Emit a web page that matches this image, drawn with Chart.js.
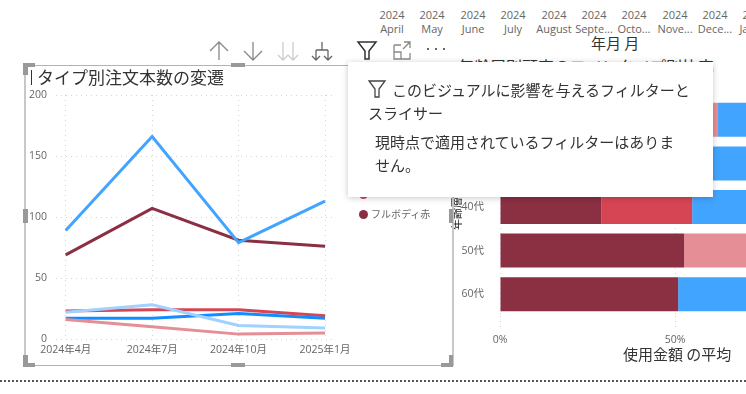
<!DOCTYPE html>
<html>
<head>
<meta charset="utf-8">
<script src="https://cdn.jsdelivr.net/npm/chart.js@4"></script>
<style>
  html, body { margin: 0; padding: 0; width: 746px; height: 394px; overflow: hidden; background: #fff; }
  body { font-family: 'Noto Sans CJK JP', sans-serif; color: #333; position: relative; }
  .abs { position: absolute; white-space: nowrap; }
  canvas { position: absolute; }
  .slicer { position: absolute; top: 8px; width: 58px; text-align: center; font: 11px/14px 'Open Sans', sans-serif; color: #666; }
  .frame { position: absolute; left: 24px; top: 65px; width: 426px; height: 299px; border: 1px solid #b3b3b3; border-left: 2px solid #c8c8c8; border-right: 2px solid #c8c8c8; }
  .hd { position: absolute; background: #999; }
  .dot { position: absolute; width: 9px; height: 9px; border-radius: 50%; }
  .lg { position: absolute; left: 371px; font-size: 10px; line-height: 14px; color: #666; white-space: nowrap; }
  .tip { position: absolute; left: 348px; top: 62px; width: 365px; height: 135px; background: #fff; box-shadow: 0 1px 6px rgba(0,0,0,.22); }
  .bottom-line { position: absolute; left: 0; top: 380px; width: 746px; border-top: 2px dotted #555; }
</style>
</head>
<body>
<div id="slicers"></div>
<div class="abs" style="left:591px;top:32px;font-size:15px;color:#333">年月 月</div>
<div class="abs" style="left:458px;top:56px;font-size:16px;line-height:20px;color:#333">年齢層別顧客のワインタイプ別比率</div>

<canvas id="barChart" width="430" height="300" style="left:440px;top:80px"></canvas>
<div class="abs" style="left:623px;top:343px;font-size:15px;color:#333">使用金額 の平均</div>
<div class="abs" style="left:450px;top:230px;font-size:11px;line-height:12px;color:#222;transform:rotate(-90deg);transform-origin:left top">年齢層</div>

<div class="frame"></div>
<canvas id="lineChart" width="330" height="290" style="left:26px;top:70px"></canvas>
<div class="abs" style="left:31px;top:70px;width:1px;height:15px;background:#333"></div>
<div class="abs" style="left:37px;top:64px;font-size:17px;line-height:25px;color:#333">タイプ別注文本数の変遷</div>
<div class="dot" style="left:359px;top:190px;background:#D64554"></div>
<div class="lg" style="top:185px">ライトボディ赤</div>
<div class="dot" style="left:359px;top:210px;background:#8B2F43"></div>
<div class="lg" style="top:207px">フルボディ赤</div>

<div class="hd" style="left:23px;top:63px;width:12px;height:4px"></div>
<div class="hd" style="left:23px;top:63px;width:5px;height:12px"></div>
<div class="hd" style="left:231px;top:63px;width:14px;height:4px"></div>
<div class="hd" style="left:23px;top:209px;width:5px;height:14px"></div>
<div class="hd" style="left:449px;top:209px;width:4px;height:14px"></div>
<div class="hd" style="left:23px;top:363px;width:12px;height:4px"></div>
<div class="hd" style="left:23px;top:355px;width:5px;height:12px"></div>
<div class="hd" style="left:231px;top:363px;width:14px;height:4px"></div>
<div class="hd" style="left:441px;top:363px;width:12px;height:4px"></div>
<div class="hd" style="left:449px;top:355px;width:4px;height:12px"></div>

<svg class="abs" style="left:204px;top:38px" width="245" height="26" fill="none" stroke-width="1.3">
  <path d="M15 22V4M6 13l9-9 9 9" stroke="#888"/>
  <path d="M49 4v18M40 13l9 9 9-9" stroke="#888"/>
  <path d="M79 4v18M74 17l5 5 5-5M89 4v18M84 17l5 5 5-5" stroke="#ccc"/>
  <path d="M118 4v8M112 12h12M112 12v10M124 12v10M108 18l4 4 4-4M120 18l4 4 4-4" stroke="#666"/>
  <path d="M154 4h18l-7 9v8h-4v-8z" stroke="#333" stroke-width="1.5"/>
  <path d="M190 7h7M190 7v14h16v-6M190 14h7v7M200 4h6v6M206 4l-7 7" stroke="#888"/>
  <path d="M223 11h2M231 11h2M239 11h2" stroke="#666" stroke-width="2"/>
</svg>

<div class="tip"></div>
<svg class="abs" style="left:367px;top:79px" width="20" height="20" fill="none"><path d="M2 2h16l-6 8v8h-4v-8z" stroke="#444" stroke-width="1.3"/></svg>
<div class="abs" style="left:392px;top:78px;font-size:15px;line-height:23px;color:#333">このビジュアルに影響を与えるフィルターと</div>
<div class="abs" style="left:368px;top:101px;font-size:15px;line-height:23px;color:#333">スライサー</div>
<div class="abs" style="left:375px;top:130px;font-size:15px;line-height:23px;color:#333">現時点で適用されているフィルターはありま</div>
<div class="abs" style="left:375px;top:153px;font-size:15px;line-height:23px;color:#333">せん。</div>
<div class="bottom-line"></div>

<script>
// line chart data
const quarters = ['2024年4月', '2024年7月', '2024年10月', '2025年1月'];
const fullRed = [69, 107, 81, 76];
const lightRed = [23, 24, 24, 19];
const paleRed = [16, 10, 4, 5];
const mainBlue = [89, 166, 79, 113];
const brightBlue = [17, 17, 21, 17];
const paleBlue = [22, 28, 11, 9];
const lineTicks = [0, 50, 100, 150, 200];

// stacked bar data
const ages = ['20代', '30代', '40代', '50代', '60代'];
const barDark = [35, 40, 28.9, 52.6, 50.9];
const barRed = [20, 20, 26, 0, 0];
const barPink = [7.3, 0, 0, 47.4, 0];
const barBlue = [37.7, 40, 45.1, 0, 49.1];
const barTicks = [0, 50, 100];

// slicer header
const months = ['April', 'May', 'June', 'July', 'August', 'Septe...', 'Octo...', 'Nove...', 'Dece...', 'Janu...'];
const slicerX = [363, 403, 444, 484, 525, 565, 605, 646, 686, 726];

const slicers = document.getElementById('slicers');
months.forEach((m, i) => {
  const d = document.createElement('div');
  d.className = 'slicer';
  d.style.left = slicerX[i] + 'px';
  d.innerHTML = '2024<br>' + m;
  slicers.appendChild(d);
});

const tickFont = { family: "'Open Sans', 'Noto Sans CJK JP', sans-serif", size: 10.5 };
const gridColor = '#d4d4d4';
const dotted = [1, 4];
const toPts = vals => vals.map((v, i) => ({ x: i, y: v }));
const ln = (vals, color) => ({ data: toPts(vals), borderColor: color, borderWidth: 3, pointRadius: 0, tension: 0 });

Chart.defaults.animation = false;
Chart.defaults.responsive = false;

new Chart(document.getElementById('lineChart'), {
  type: 'line',
  data: {
    datasets: [
      ln(paleBlue, '#A0D1FF'),
      ln(paleRed, '#E68E96'),
      ln(brightBlue, '#118DFF'),
      ln(lightRed, '#D64554'),
      ln(mainBlue, '#41A4FF'),
      ln(fullRed, '#8B2F43')
    ]
  },
  options: {
    layout: { padding: { left: 0, right: 14, top: 25, bottom: 0 } },
    plugins: { legend: { display: false }, tooltip: { enabled: false } },
    scales: {
      x: {
        type: 'linear', min: -0.112, max: 3.1,
        afterBuildTicks: s => { s.ticks = quarters.map((q, i) => ({ value: i })); },
        afterFit: s => { s.height = 21; },
        ticks: { autoSkip: false, maxRotation: 0, padding: 5, color: '#666', font: tickFont, callback: v => quarters[v] },
        grid: { color: gridColor, drawTicks: false },
        border: { display: false, dash: dotted }
      },
      y: {
        min: 0, max: 200,
        afterBuildTicks: s => { s.ticks = lineTicks.map(v => ({ value: v })); },
        afterFit: s => { s.width = 30; },
        ticks: { padding: 9, color: '#666', font: tickFont },
        grid: { color: gridColor, drawTicks: false },
        border: { display: false, dash: dotted }
      }
    }
  }
});

new Chart(document.getElementById('barChart'), {
  type: 'bar',
  data: {
    labels: ages,
    datasets: [
      { data: barDark, backgroundColor: '#8B2F43' },
      { data: barRed, backgroundColor: '#D64554' },
      { data: barPink, backgroundColor: '#E68E96' },
      { data: barBlue, backgroundColor: '#41A4FF' }
    ]
  },
  options: {
    indexAxis: 'y',
    layout: { padding: { left: 0, right: 20, top: 18, bottom: 0 } },
    plugins: { legend: { display: false }, tooltip: { enabled: false } },
    datasets: { bar: { stack: 'a', barPercentage: 0.78, categoryPercentage: 1, borderWidth: 0 } },
    scales: {
      x: {
        stacked: true, min: 0, max: 100,
        afterBuildTicks: s => { s.ticks = barTicks.map(v => ({ value: v })); },
        afterFit: s => { s.height = 64; },
        ticks: { maxRotation: 0, color: '#666', padding: 4, font: tickFont, callback: v => v + '%' },
        grid: { color: gridColor, tickLength: 14, tickColor: gridColor, tickBorderDash: dotted },
        border: { display: false, dash: dotted }
      },
      y: {
        stacked: true,
        afterFit: s => { s.width = 60; },
        ticks: { padding: 8, color: '#666', font: tickFont },
        grid: { display: false },
        border: { display: false }
      }
    }
  }
});
</script>
</body>
</html>
